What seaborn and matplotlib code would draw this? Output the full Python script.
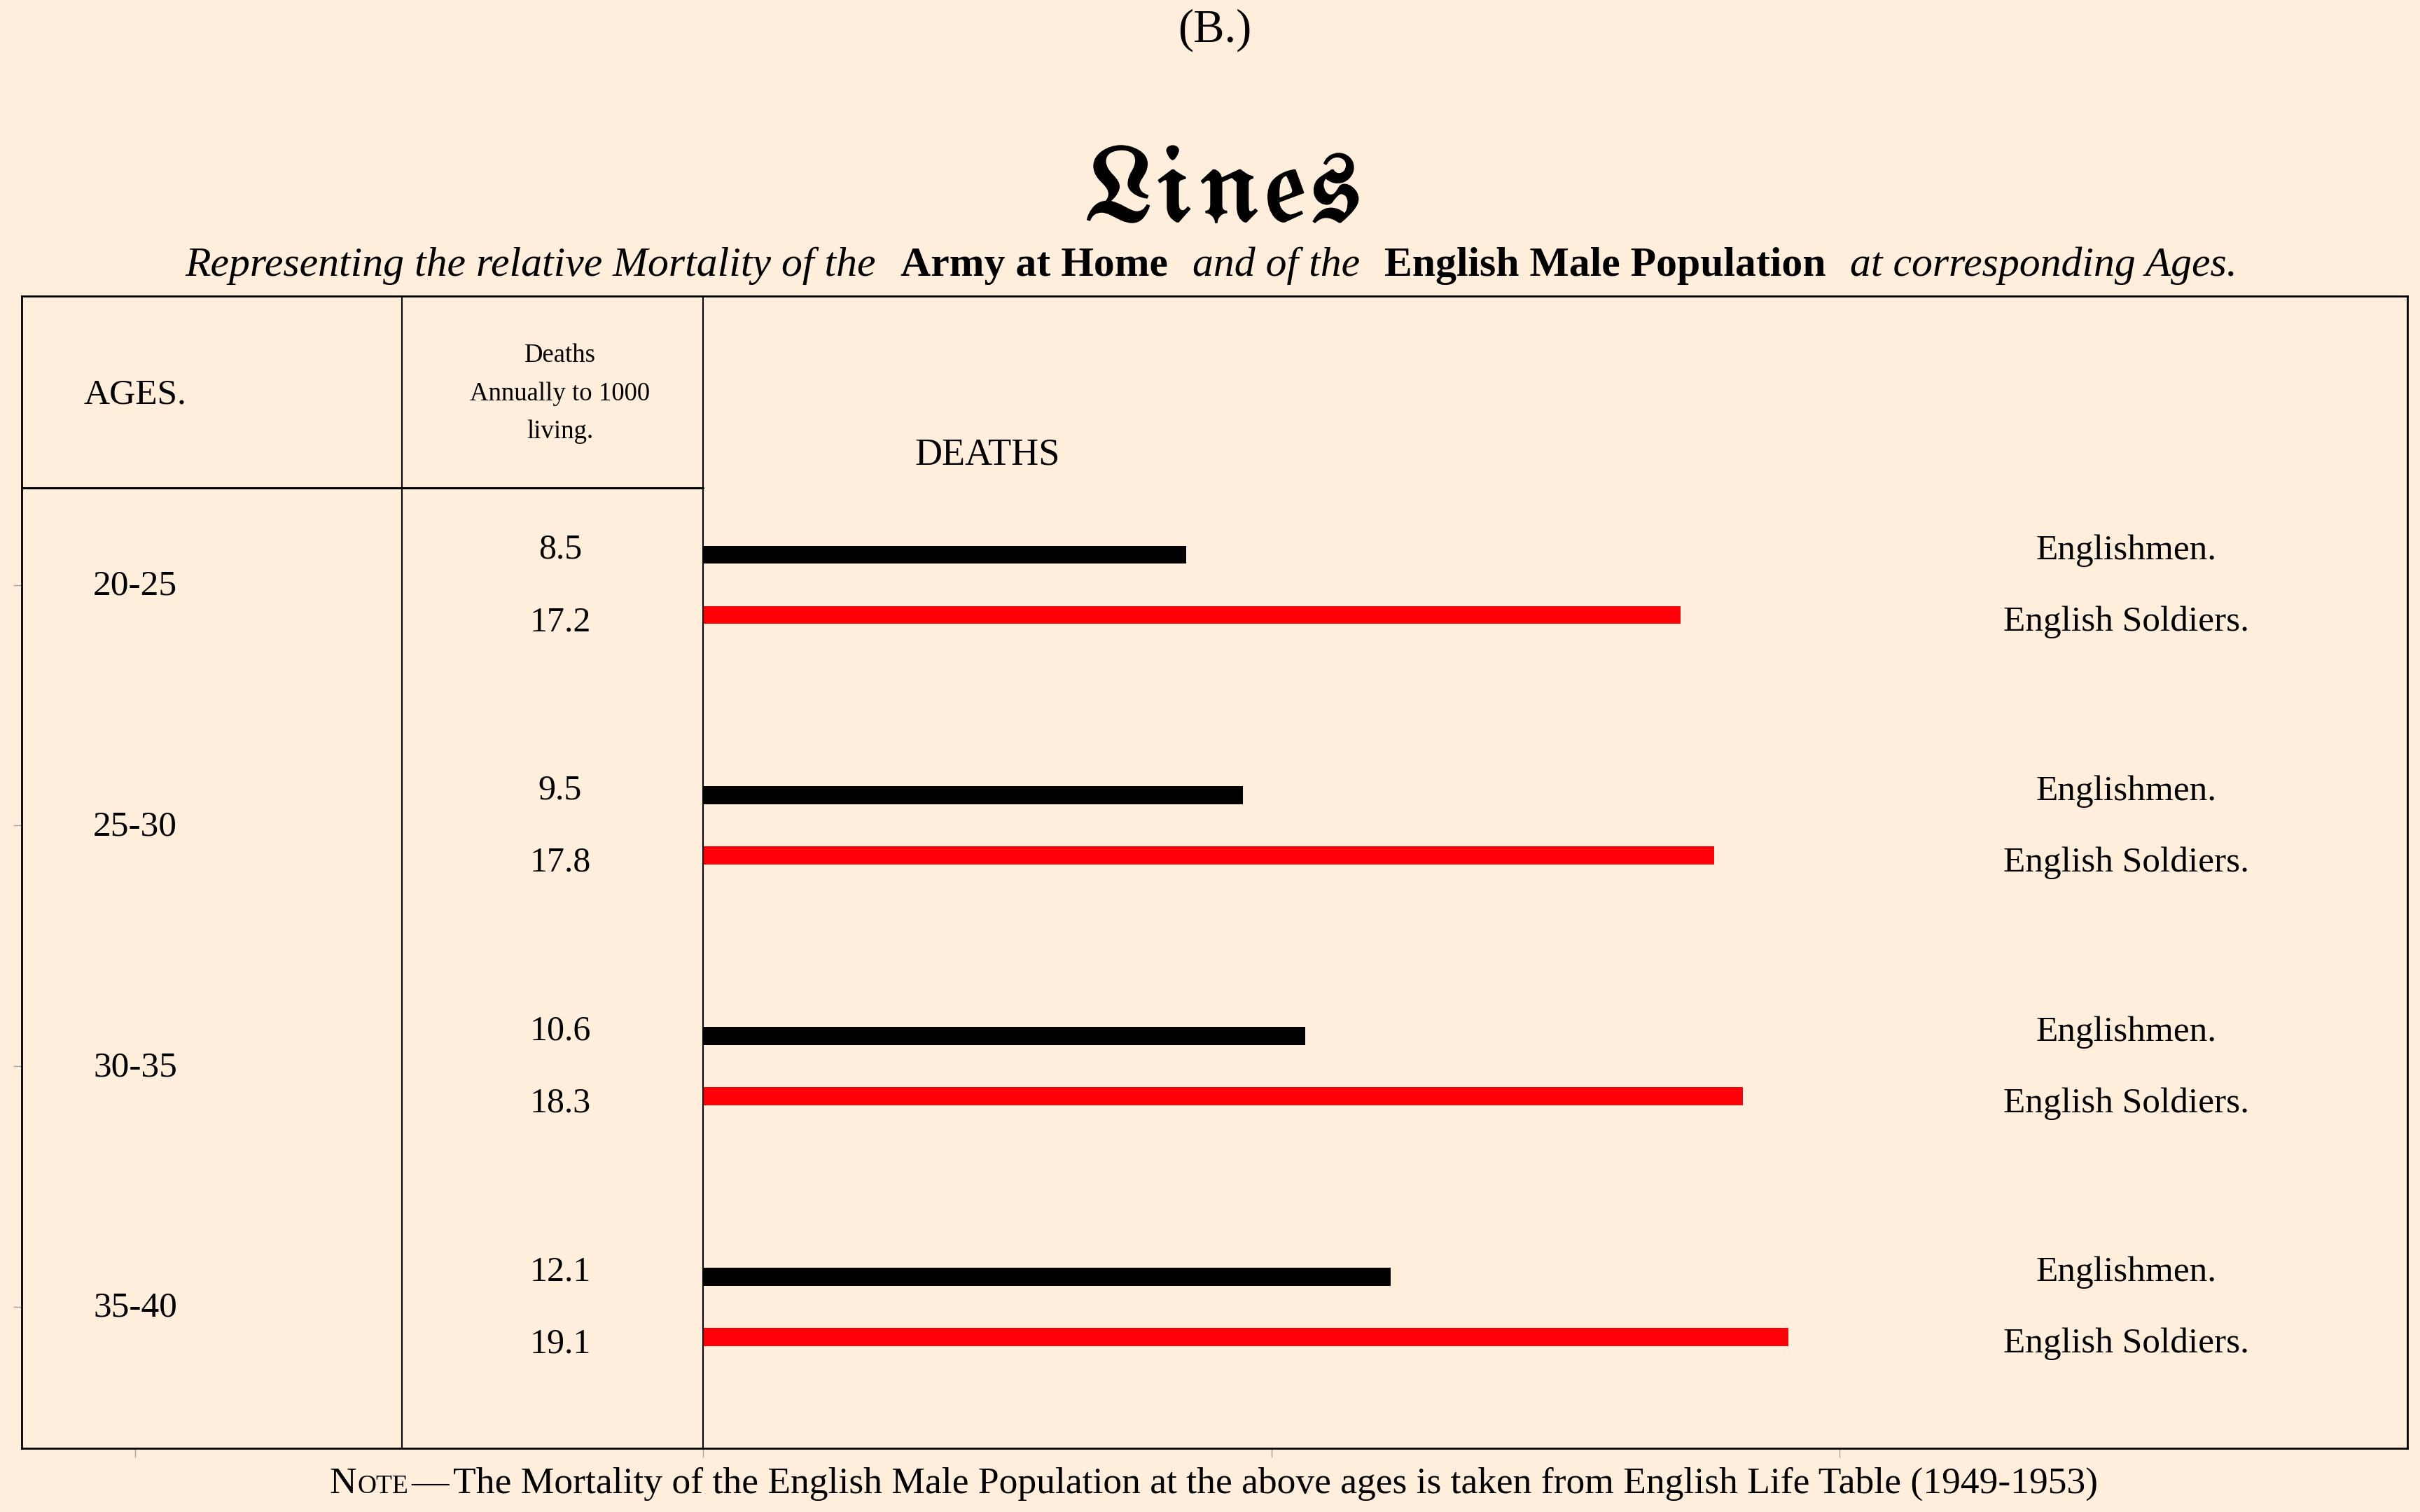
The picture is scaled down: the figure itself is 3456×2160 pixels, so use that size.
import pandas as pd
import seaborn as sns
import matplotlib.pyplot as plt
import matplotlib.patheffects as pe

# Data
ages = ["20-25", "25-30", "30-35", "35-40"]
englishmen = [8.5, 9.5, 10.6, 12.1]
soldiers = [17.2, 17.8, 18.3, 19.1]
groups = ["Englishmen.", "English Soldiers."]
bar_colors = ["black", "#ff0008"]

bg = "#ffeedb"
W, H = 3456, 2160

sns.set_style("white")
plt.rcParams["font.family"] = ["Liberation Serif", "DejaVu Serif"]
plt.rcParams["text.color"] = "black"

df = pd.DataFrame({
    "age": ages * 2,
    "deaths": englishmen + soldiers,
    "group": [groups[0]] * len(ages) + [groups[1]] * len(ages),
})

fig = plt.figure(figsize=(W / 100, H / 100), dpi=100, facecolor=bg)
ax = fig.add_axes([31 / W, 1 - 2069 / H, (3438 - 31) / W, (2069 - 423) / H])
ax.set_facecolor(bg)

sns.barplot(data=df, x="deaths", y="age", hue="group", hue_order=groups, order=ages,
            orient="h", palette=dict(zip(groups, bar_colors)), saturation=1,
            width=0.5, gap=0.7, linewidth=0, errorbar=None, legend=False, ax=ax)

ax.set_xlim(-12, 30)
ax.set_ylim(3.588, -1.2)
ax.set_xticks([-10, 0, 10, 20])
ax.set_yticks(range(len(ages)))
ax.tick_params(length=9, width=1, color="#a0a0a0", labelbottom=False, labelleft=False,
               bottom=True, left=True)
ax.set_xlabel("")
ax.set_ylabel("")
for s in ax.spines.values():
    s.set_visible(True)
    s.set_linewidth(2)
    s.set_color("black")

# table rules
ax.axvline(0, color="black", lw=1.5)
ax.axvline(-5.3, color="black", lw=1.5)
ax.plot([-12, 0], [-0.404, -0.404], color="black", lw=2.2)

# header cells
ax.text(-10, -0.79, "AGES.", ha="center", va="center", fontsize=37)
ax.text(-2.52, -0.794, "Deaths\nAnnually to 1000\nliving.", ha="center", va="center",
        fontsize=26.5, linespacing=1.75)
ax.text(5, -0.54, "DEATHS", ha="center", va="center", fontsize=39)

for i, age in enumerate(ages):
    ax.text(-10, i + 0.005, age, ha="center", va="center", fontsize=37)
    ax.text(-2.52, i - 0.145, f"{englishmen[i]}", ha="center", va="center", fontsize=36)
    ax.text(-2.52, i + 0.155, f"{soldiers[i]}", ha="center", va="center", fontsize=36)
    ax.text(25.05, i - 0.142, groups[0], ha="center", va="center", fontsize=37)
    ax.text(25.05, i + 0.155, groups[1], ha="center", va="center", fontsize=37)


def text_row(pieces, cx, y, gaps):
    # lay out differently styled pieces side by side, centred on cx
    r = fig.canvas.get_renderer()
    arts = [fig.text(0, y, s, va="baseline", ha="left", **kw) for s, kw in pieces]
    widths = [a.get_window_extent(r).width for a in arts]
    total = sum(widths) + sum(gaps)
    x = cx * W - total / 2
    for k, (a, w) in enumerate(zip(arts, widths)):
        a.set_x(x / W)
        x += w + (gaps[k] if k < len(gaps) else 0)


fig.text(0.502, 1 - 60 / H, "(B.)", ha="center", va="baseline", fontsize=48)
fig.text(0.5045, 1 - 315 / H, r"$\mathfrak{Lines}$", ha="center", va="baseline",
         fontsize=110, math_fontfamily="stix",
         path_effects=[pe.withStroke(linewidth=1.2, foreground="black")])

it = dict(fontsize=43, style="italic")
bd = dict(fontsize=43, weight="bold")
text_row([("Representing the relative Mortality of the", it), ("Army at Home", bd),
          ("and of the", it), ("English Male Population", bd), ("at corresponding Ages.", it)],
         0.5005, 1 - 394 / H, [35, 35, 35, 35])

text_row([("N", dict(fontsize=38.5)), ("OTE", dict(fontsize=27)), ("\u2014", dict(fontsize=38.5)),
          ("The Mortality of the English Male Population at the above ages is taken from "
           "English Life Table (1949-1953)", dict(fontsize=38.5))],
         0.5015, 1 - 2133 / H, [2, 4, 6])

fig.savefig("out.png", dpi=100, facecolor=bg)
